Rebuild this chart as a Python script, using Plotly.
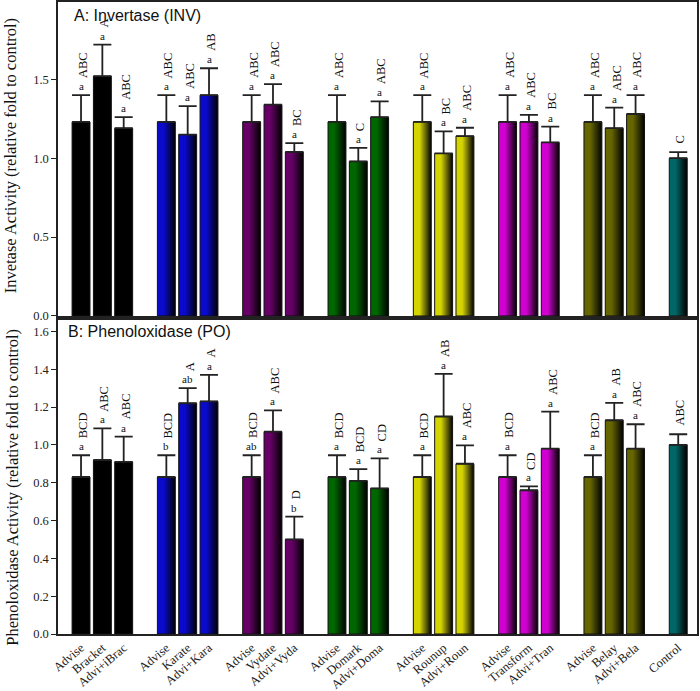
import plotly.graph_objects as go

groups = ["Bracket", "Karate", "Vydate", "Domark", "Rounup", "Transform", "Belay"]
short = ["iBrac", "Kara", "Vyda", "Doma", "Roun", "Tran", "Bela"]
group_colors = ["#000000", "#0a0acc", "#660066", "#006600", "#d4d400", "#d000d0", "#666600", "#006666"]

inv_mean = [1.23, 1.52, 1.19, 1.23, 1.15, 1.40, 1.23, 1.34, 1.04, 1.23, 0.98, 1.26,
            1.23, 1.03, 1.14, 1.23, 1.23, 1.10, 1.23, 1.19, 1.28, 1.00]
inv_err = [0.17, 0.20, 0.07, 0.17, 0.18, 0.17, 0.17, 0.13, 0.055, 0.17, 0.085, 0.10,
           0.17, 0.14, 0.053, 0.17, 0.045, 0.10, 0.17, 0.13, 0.12, 0.038]
inv_low = ["a"] * 21 + [""]
inv_up = ["ABC", "A", "ABC", "ABC", "ABC", "AB", "ABC", "ABC", "BC", "ABC", "C", "ABC",
          "ABC", "BC", "ABC", "ABC", "ABC", "BC", "ABC", "ABC", "ABC", "C"]

po_mean = [0.83, 0.92, 0.91, 0.83, 1.22, 1.23, 0.83, 1.07, 0.50, 0.83, 0.81, 0.77,
           0.83, 1.15, 0.90, 0.83, 0.76, 0.98, 0.83, 1.13, 0.98, 1.00]
po_err = [0.115, 0.167, 0.134, 0.115, 0.08, 0.14, 0.115, 0.112, 0.121, 0.115, 0.062, 0.159,
          0.115, 0.225, 0.097, 0.115, 0.02, 0.196, 0.115, 0.092, 0.129, 0.056]
po_low = ["a", "a", "a", "b", "ab", "a", "ab", "a", "b", "a", "a", "a",
          "a", "a", "a", "a", "a", "a", "a", "a", "a", ""]
po_up = ["BCD", "ABC", "ABC", "BCD", "A", "A", "BCD", "ABC", "D", "BCD", "BCD", "CD",
         "BCD", "AB", "ABC", "BCD", "CD", "ABC", "BCD", "AB", "ABC", "ABC"]

labels = []
for g, s in zip(groups, short):
    labels += ["Advise", g, "Advi+" + s]
labels.append("Control")

# slot positions: 3 bars + gap per group, control last
pos = [(i // 3) * 4 + i % 3 for i in range(21)] + [28]
colors = [group_colors[i // 3] for i in range(21)] + [group_colors[7]]
half = 0.42

serif = "Liberation Serif"
fig = go.Figure()


def add_panel(means, errs, lows, ups, xa, ya):
    for p, v, c in zip(pos, means, colors):
        fig.add_trace(go.Scatter(
            x=[p - half, p - half, p + half, p + half, p - half], y=[0, v, v, 0, 0],
            xaxis=xa, yaxis=ya, mode="lines", fill="toself",
            line=dict(color="#111", width=1),
            fillgradient=dict(type="horizontal",
                              colorscale=[[0, c], [0.35, c], [1, "#000000"]]),
            hoverinfo="skip", showlegend=False))
    fig.add_trace(go.Scatter(
        x=pos, y=means, xaxis=xa, yaxis=ya, mode="markers",
        marker=dict(size=1, color="rgba(0,0,0,0)"),
        error_y=dict(type="data", symmetric=False, array=errs, arrayminus=[0] * len(errs),
                     width=9, thickness=1.8, color="#222"),
        hoverinfo="skip", showlegend=False))
    for p, v, e, lo, up in zip(pos, means, errs, lows, ups):
        top = v + e
        if lo:
            fig.add_annotation(x=p, y=top, xref=xa, yref=ya, text=lo, showarrow=False,
                               yanchor="middle", yshift=9,
                               font=dict(family=serif, size=11, color="#111"))
        fig.add_annotation(x=p, y=top, xref=xa, yref=ya, text=up, showarrow=False,
                           textangle=-90, xanchor="center", yanchor="bottom",
                           xshift=2, yshift=15 if lo else 7,
                           font=dict(family=serif, size=12.5, color="#111"))


add_panel(inv_mean, inv_err, inv_low, inv_up, "x", "y")
add_panel(po_mean, po_err, po_low, po_up, "x2", "y2")

axis_line = dict(showline=True, linecolor="#222", linewidth=1.5, mirror=True,
                 showgrid=False, zeroline=False, automargin=False)
xr = [-1.08, 28.88]

fig.update_layout(
    width=700, height=691,
    margin=dict(l=58, r=3, t=2, b=57),
    plot_bgcolor="white", paper_bgcolor="white",
    xaxis=dict(domain=[0, 1], anchor="y", range=xr, showticklabels=False, ticks="",
               **axis_line),
    yaxis=dict(domain=[0.5032, 1], anchor="x", range=[0, 1.99],
               tickvals=[0, 0.5, 1.0, 1.5], ticktext=["0.0", "0.5", "1.0", "1.5"],
               ticks="outside", ticklen=5, tickcolor="#222",
               tickfont=dict(family=serif, size=12.5, color="#222"), **axis_line),
    xaxis2=dict(domain=[0, 1], anchor="y2", range=xr, tickvals=pos, ticktext=labels,
                tickangle=-40, ticks="",
                tickfont=dict(family=serif, size=12.5, color="#222"), **axis_line),
    yaxis2=dict(domain=[0, 0.4968], anchor="x2", range=[0, 1.66],
                tickvals=[0, 0.2, 0.4, 0.6, 0.8, 1.0, 1.2, 1.4, 1.6],
                tickformat=".1f",
                ticks="outside", ticklen=5, tickcolor="#222",
                tickfont=dict(family=serif, size=12.5, color="#222"), **axis_line),
)

fig.add_annotation(x=0.022, y=0.979, xref="paper", yref="paper", text="A: Invertase (INV)",
                   showarrow=False, xanchor="left", yanchor="middle",
                   font=dict(family="Liberation Sans", size=16, color="#111"))
fig.add_annotation(x=0.0125, y=0.478, xref="paper", yref="paper", text="B: Phenoloxidase (PO)",
                   showarrow=False, xanchor="left", yanchor="middle",
                   font=dict(family="Liberation Sans", size=16, color="#111"))
fig.add_annotation(x=-0.075, y=0.756, xref="paper", yref="paper",
                   text="Invetase Activity (relative fold to control)",
                   showarrow=False, textangle=-90, xanchor="center", yanchor="middle",
                   font=dict(family=serif, size=16.5, color="#111"))
fig.add_annotation(x=-0.071, y=0.2326, xref="paper", yref="paper",
                   text="Phenoloxidase Activity (relative fold to control)",
                   showarrow=False, textangle=-90, xanchor="center", yanchor="middle",
                   font=dict(family=serif, size=16.5, color="#111"))

fig.write_html("out.html", config={"displayModeBar": False},
               post_script="document.body.style.margin='0';")
